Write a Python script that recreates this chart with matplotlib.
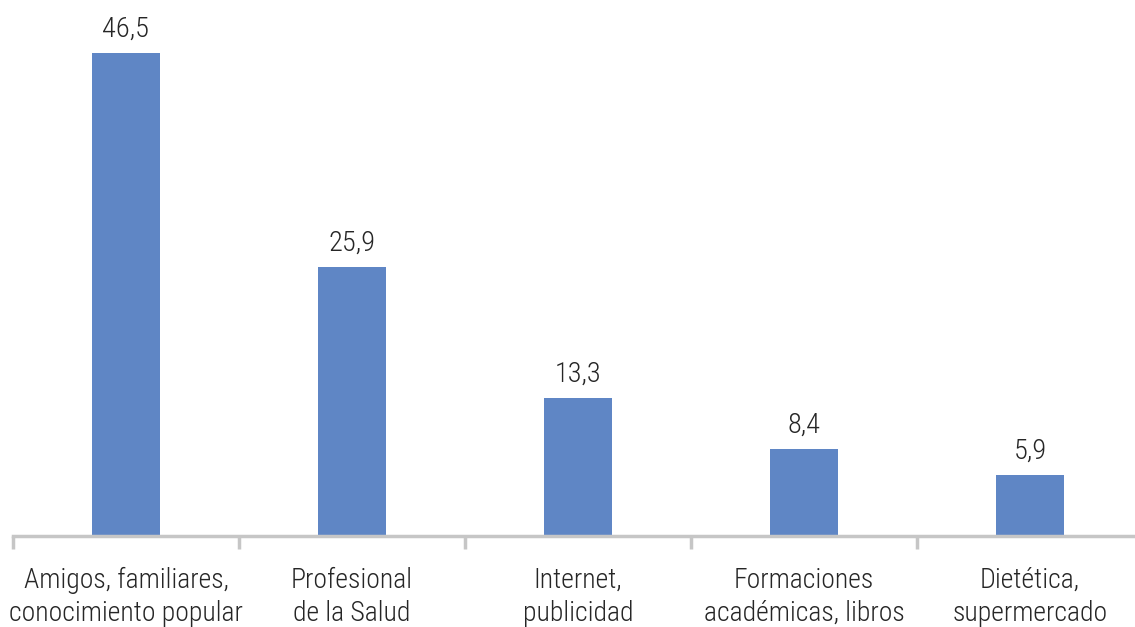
import matplotlib
matplotlib.use('Agg')
import matplotlib.pyplot as plt
import numpy as np
from matplotlib import font_manager as fm

avail = {f.name for f in fm.fontManager.ttflist}
fams = [f for f in ['Roboto Condensed', 'Archivo Narrow'] if f in avail][:1] + ['DejaVu Sans']
plt.rcParams['font.family'] = fams

categories = ['Amigos, familiares,\nconocimiento popular', 'Profesional\nde la Salud',
              'Internet,\npublicidad', 'Formaciones\nacadémicas, libros', 'Dietética,\nsupermercado']
values = [46.5, 25.9, 13.3, 8.4, 5.9]
value_labels = ['46,5', '25,9', '13,3', '8,4', '5,9']

fig = plt.figure(figsize=(11.35, 6.27), dpi=100)
ax = fig.add_axes([13 / 1135, 91 / 627, 1130 / 1135, 519.5 / 627])

x = np.arange(len(categories))
bars = ax.bar(x, values, width=0.305, color='#5F86C5', zorder=2)
for b, lab in zip(bars, value_labels):
    ax.text(b.get_x() + b.get_width() / 2, b.get_height() + 1.0, lab,
            ha='center', va='bottom', fontsize=20.5, fontweight='light', color='#262626')

ax.set_xlim(-0.5, len(categories) - 0.5)
ax.set_ylim(0, 50)
ax.set_yticks([])
for s in ['top', 'right', 'left']:
    ax.spines[s].set_visible(False)
ax.spines['bottom'].set_color('#C6C6C6')
ax.spines['bottom'].set_linewidth(2.5)

ax.set_xticks(np.arange(-0.5, len(categories), 1.0))
ax.set_xticklabels([])
ax.tick_params(axis='x', which='major', length=9, width=2.5, color='#C6C6C6')
ax.set_xticks(x, minor=True)
ax.set_xticklabels(categories, minor=True, fontsize=20, fontweight='light',
                   color='#262626', linespacing=1.3)
ax.tick_params(axis='x', which='minor', length=0, pad=22)

fig.savefig('out.png', dpi=100)
